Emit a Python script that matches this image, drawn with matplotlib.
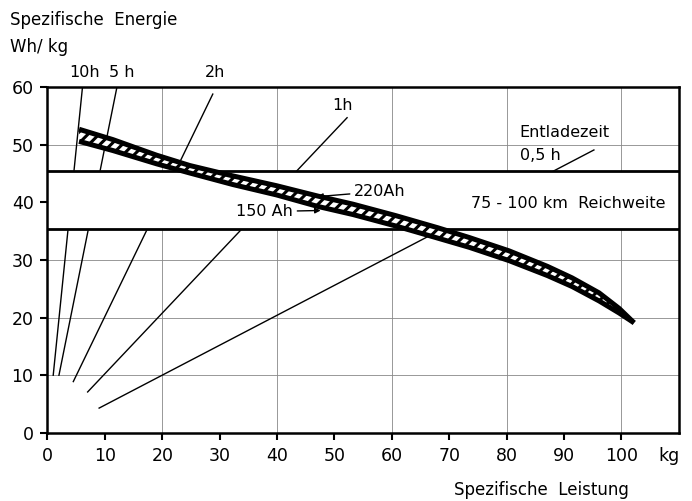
import numpy as np
import matplotlib
matplotlib.use("Agg")
import matplotlib.pyplot as plt
from matplotlib.transforms import blended_transform_factory

# Kurve (Band zwischen 150 Ah und 220 Ah), Mittellinien der Randstriche
curve_x = [5.5, 11.4, 19.0, 24.8, 32.3, 39.9, 47.1, 53.2, 60.7,
           68.0, 73.5, 80.4, 87.1, 91.4, 96.1, 99.6, 102.2]
upper_y = [52.7, 50.9, 48.2, 46.4, 44.6, 42.9, 41.1, 39.7, 37.7,
           35.6, 33.9, 31.6, 28.9, 26.9, 24.3, 21.6, 19.1]
lower_y = [50.6, 49.0, 46.7, 45.1, 43.1, 41.3, 39.3, 37.9, 35.9,
           33.8, 32.2, 29.9, 27.3, 25.4, 22.9, 20.8, 19.1]

# Entladezeit-Linien: (x0, y0, x1, y1)
dis_labels = ["10h", "5 h", "2h", "1h", "0,5 h"]
dis_x0 = [1.0, 2.0, 4.5, 7.0, 9.0]
dis_y0 = [10.0, 10.0, 8.9, 7.1, 4.3]
dis_x1 = [6.1, 12.1, 28.8, 52.2, 95.2]
dis_y1 = [60.0, 60.0, 58.8, 54.7, 49.1]

# Reichweite-Band
band_lo, band_hi = 35.4, 45.5

x_ticks = list(range(0, 101, 10))
y_ticks = list(range(0, 61, 10))

plt.rcParams['font.family'] = ['DejaVu Sans']
plt.rcParams['hatch.linewidth'] = 2.2

fig = plt.figure(figsize=(6.92, 5.01), dpi=100)
ax = fig.add_axes([0.0686, 0.136, 0.9124, 0.690])
ax.set_xlim(0, 110)
ax.set_ylim(0, 60)

# Gitter
for gx in range(20, 101, 20):
    ax.axvline(gx, color='#888888', lw=0.6, zorder=0.5)
for gy in range(10, 51, 10):
    ax.axhline(gy, color='#888888', lw=0.6, zorder=0.5)

# Entladezeit-Linien
for x0, y0, x1, y1 in zip(dis_x0, dis_y0, dis_x1, dis_y1):
    ax.plot([x0, x1], [y0, y1], color='black', lw=1.0, zorder=1.5)

# Reichweite-Band
ax.axhspan(band_lo, band_hi, color='white', zorder=2)
ax.axhline(band_lo, color='black', lw=2.0, zorder=2.5)
ax.axhline(band_hi, color='black', lw=2.0, zorder=2.5)

# schraffierte Kurve
xs = np.array(curve_x)
ax.fill_between(xs, lower_y, upper_y, facecolor='white', edgecolor='black',
                hatch='///', lw=0, zorder=3)
ax.plot(curve_x, upper_y, color='black', lw=3.6, solid_capstyle='butt',
        solid_joinstyle='round', zorder=3.5)
ax.plot(curve_x, lower_y, color='black', lw=3.6, solid_capstyle='butt',
        solid_joinstyle='round', zorder=3.5)

# Achsen
for s in ax.spines.values():
    s.set_linewidth(1.8)
ax.set_xticks(x_ticks)
ax.set_yticks(y_ticks)
ax.tick_params(direction='out', length=5, width=1.5, labelsize=12.5, pad=5)

fs = 11.5
ax.text(6.5, 61.3, "10h", fontsize=fs, ha='center', va='bottom')
ax.text(13.0, 61.3, "5 h", fontsize=fs, ha='center', va='bottom')
ax.text(29.2, 61.3, "2h", fontsize=fs, ha='center', va='bottom')
ax.text(51.4, 55.5, "1h", fontsize=fs, ha='center', va='bottom')
ax.text(82.3, 50.8, "Entladezeit", fontsize=fs, ha='left', va='bottom')
ax.text(82.3, 46.9, "0,5 h", fontsize=fs, ha='left', va='bottom')
ax.text(73.8, 39.8, "75 - 100 km  Reichweite", fontsize=fs, ha='left', va='center')

ax.annotate("220Ah", xy=(47.0, 41.0), xytext=(53.4, 41.9), fontsize=fs,
            ha='left', va='center', zorder=4,
            arrowprops=dict(arrowstyle='-|>', color='black', lw=1.0,
                            shrinkA=1, shrinkB=0, mutation_scale=8))
ax.annotate("150 Ah", xy=(47.6, 38.6), xytext=(42.8, 38.4), fontsize=fs,
            ha='right', va='center', zorder=4,
            arrowprops=dict(arrowstyle='-|>', color='black', lw=1.0,
                            shrinkA=1, shrinkB=0, mutation_scale=8))

tr = blended_transform_factory(ax.transData, ax.transAxes)
ax.text(106.5, -0.066, "kg", fontsize=12.5, ha='left', va='center', transform=tr)

fig.text(0.0145, 0.96, "Spezifische  Energie", fontsize=12, ha='left', va='center')
fig.text(0.0145, 0.906, "Wh/ kg", fontsize=12, ha='left', va='center')
fig.text(0.783, 0.022, "Spezifische  Leistung", fontsize=12, ha='center', va='center')

fig.savefig("out.png", dpi=100)
